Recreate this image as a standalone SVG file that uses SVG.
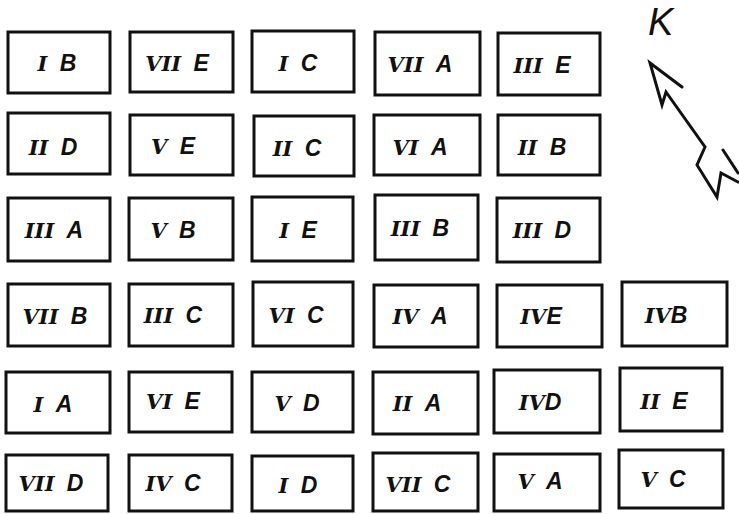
<svg xmlns="http://www.w3.org/2000/svg" width="739" height="514" viewBox="0 0 739 514">
<style>
.box rect{fill:#fff;stroke:#111;stroke-width:3}
.box text{font-family:"DejaVu Serif","Liberation Serif",serif;font-style:italic;font-weight:bold;font-size:21px;fill:#111;text-anchor:middle;word-spacing:5px}
.box text .l{font-family:"Liberation Sans",sans-serif;font-weight:bold;font-size:23px}
.k{font-family:"Liberation Sans",sans-serif;font-style:italic;font-size:38px;fill:#111}
.arrow{fill:none;stroke:#111;stroke-width:3;stroke-linejoin:miter;stroke-linecap:round}
</style>
<rect width="739" height="514" fill="#fff"/>
<g id="nodes">
<g id="n-IB" class="box"><rect x="8" y="32" width="102" height="61"/><text x="57" y="71">I <tspan class="l">B</tspan></text></g>
<g id="n-VIIE" class="box"><rect x="130" y="32" width="103" height="60"/><text x="177" y="71">VII <tspan class="l">E</tspan></text></g>
<g id="n-IC" class="box"><rect x="252" y="31" width="102" height="61"/><text x="298" y="71">I <tspan class="l">C</tspan></text></g>
<g id="n-VIIA" class="box"><rect x="375" y="32" width="105" height="63"/><text x="420" y="72">VII <tspan class="l">A</tspan></text></g>
<g id="n-IIIE" class="box"><rect x="498" y="33" width="102" height="62"/><text x="542" y="73">III <tspan class="l">E</tspan></text></g>

<g id="n-IID" class="box"><rect x="8" y="113" width="102" height="61"/><text x="53" y="155">II <tspan class="l">D</tspan></text></g>
<g id="n-VE" class="box"><rect x="130" y="115" width="103" height="60"/><text x="173" y="154">V <tspan class="l">E</tspan></text></g>
<g id="n-IIC" class="box"><rect x="254" y="116" width="100" height="60"/><text x="297" y="156">II <tspan class="l">C</tspan></text></g>
<g id="n-VIA" class="box"><rect x="374" y="115" width="106" height="60"/><text x="420" y="155">VI <tspan class="l">A</tspan></text></g>
<g id="n-IIB" class="box"><rect x="498" y="115" width="102" height="60"/><text x="542" y="155">II <tspan class="l">B</tspan></text></g>

<g id="n-IIIA" class="box"><rect x="8" y="198" width="102" height="63"/><text x="54" y="238">III <tspan class="l">A</tspan></text></g>
<g id="n-VB" class="box"><rect x="129" y="198" width="104" height="62"/><text x="173" y="238">V <tspan class="l">B</tspan></text></g>
<g id="n-IE" class="box"><rect x="252" y="197" width="101" height="64"/><text x="298" y="238">I <tspan class="l">E</tspan></text></g>
<g id="n-IIIB" class="box"><rect x="375" y="195" width="103" height="65"/><text x="420" y="236">III <tspan class="l">B</tspan></text></g>
<g id="n-IIID" class="box"><rect x="497" y="198" width="103" height="64"/><text x="542" y="238">III <tspan class="l">D</tspan></text></g>

<g id="n-VIIB" class="box"><rect x="8" y="284" width="102" height="62"/><text x="55" y="324">VII <tspan class="l">B</tspan></text></g>
<g id="n-IIIC" class="box"><rect x="129" y="284" width="104" height="62"/><text x="173" y="323">III <tspan class="l">C</tspan></text></g>
<g id="n-VIC" class="box"><rect x="253" y="282" width="100" height="64"/><text x="296" y="323">VI <tspan class="l">C</tspan></text></g>
<g id="n-IVA" class="box"><rect x="374" y="285" width="104" height="62"/><text x="420" y="324">IV <tspan class="l">A</tspan></text></g>
<g id="n-IVE" class="box"><rect x="497" y="285" width="105" height="62"/><text x="541" y="324">IV<tspan class="l">E</tspan></text></g>
<g id="n-IVB" class="box"><rect x="622" y="282" width="105" height="64"/><text x="666" y="323">IV<tspan class="l">B</tspan></text></g>

<g id="n-IA" class="box"><rect x="6" y="372" width="104" height="61"/><text x="53" y="412">I <tspan class="l">A</tspan></text></g>
<g id="n-VIE" class="box"><rect x="129" y="372" width="103" height="60"/><text x="173" y="409">VI <tspan class="l">E</tspan></text></g>
<g id="n-VD" class="box"><rect x="252" y="372" width="101" height="60"/><text x="297" y="411">V <tspan class="l">D</tspan></text></g>
<g id="n-IIA" class="box"><rect x="373" y="372" width="105" height="62"/><text x="417" y="411">II <tspan class="l">A</tspan></text></g>
<g id="n-IVD" class="box"><rect x="494" y="370" width="106" height="63"/><text x="540" y="410">IV<tspan class="l">D</tspan></text></g>
<g id="n-IIE" class="box"><rect x="620" y="368" width="102" height="63"/><text x="664" y="409">II <tspan class="l">E</tspan></text></g>

<g id="n-VIID" class="box"><rect x="6" y="455" width="102" height="56"/><text x="51" y="491">VII <tspan class="l">D</tspan></text></g>
<g id="n-IVC" class="box"><rect x="129" y="455" width="103" height="56"/><text x="173" y="491">IV <tspan class="l">C</tspan></text></g>
<g id="n-ID" class="box"><rect x="252" y="456" width="101" height="55"/><text x="298" y="493">I <tspan class="l">D</tspan></text></g>
<g id="n-VIIC" class="box"><rect x="373" y="453" width="105" height="58"/><text x="418" y="492">VII <tspan class="l">C</tspan></text></g>
<g id="n-VA" class="box"><rect x="494" y="454" width="106" height="57"/><text x="540" y="489">V <tspan class="l">A</tspan></text></g>
<g id="n-VC" class="box"><rect x="619" y="450" width="104" height="58"/><text x="663" y="487">V <tspan class="l">C</tspan></text></g>
</g>
<g id="connectors">
<text class="k" x="648" y="35">K</text>
<path class="arrow" d="M682,87 L650,63 L662,105 L666,92 L705,147 L697,165 L717,197 L721,173 L738,182"/>
<path class="arrow" d="M723,150 L738,173"/>
</g>
</svg>
